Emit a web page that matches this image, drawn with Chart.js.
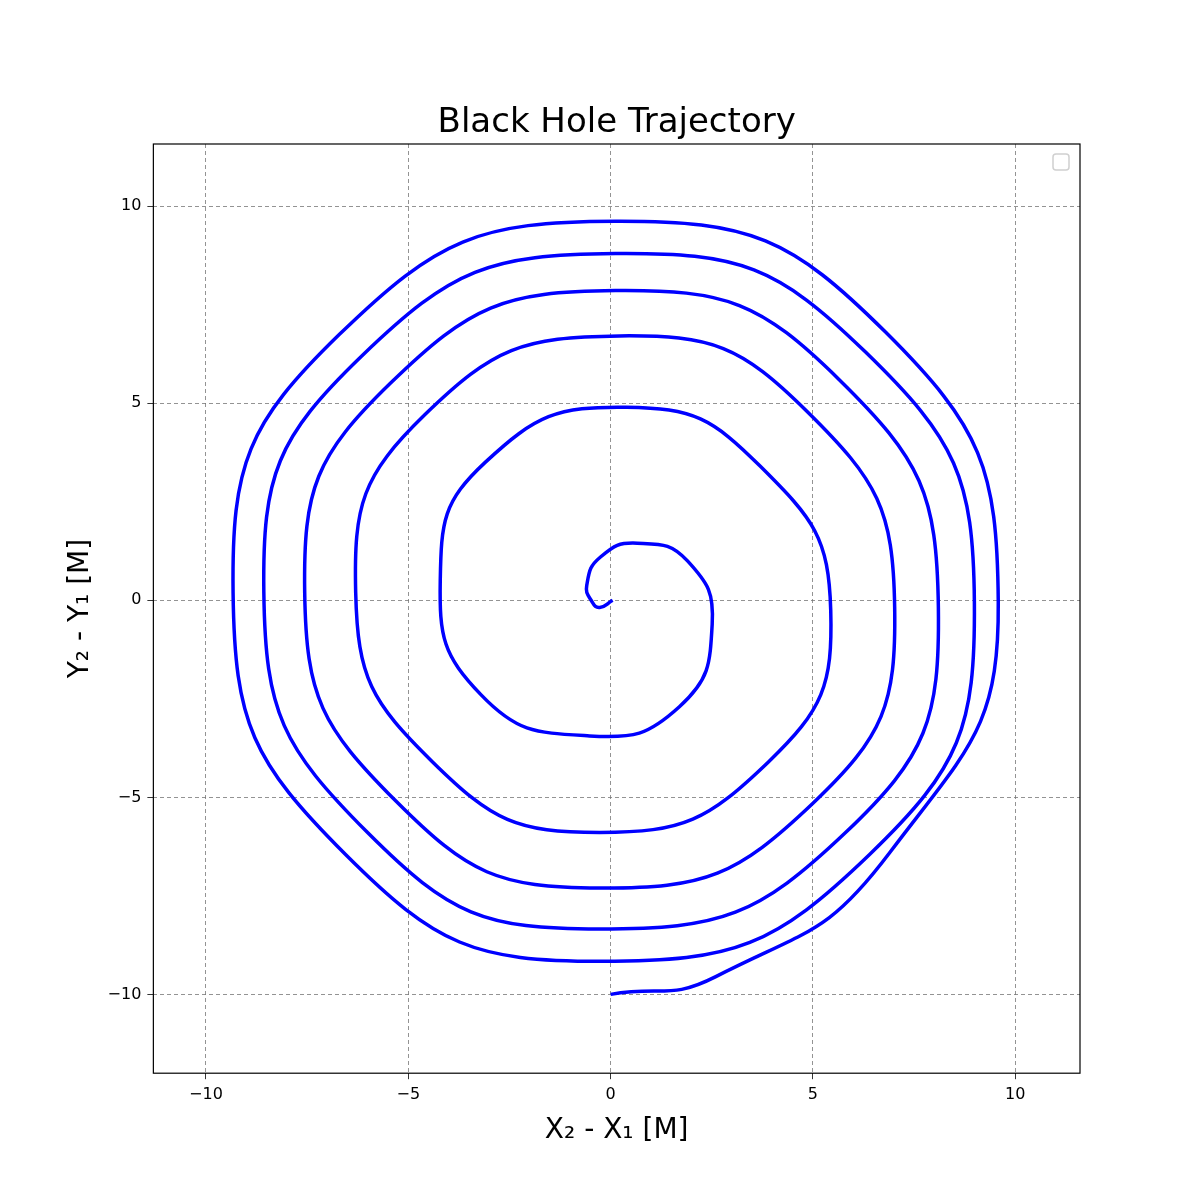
<!DOCTYPE html>
<html>
<head>
<script src="https://cdn.jsdelivr.net/npm/chart.js@4"></script>
<style>body{margin:0;background:#fff}#wrap{width:1200px;height:1200px}</style>
</head>
<body>
<div id="wrap"><canvas id="myChart"></canvas></div>
<script>
// points, start at bottom, spiralling inward counter-clockwise
const xValues = [0, 2.6, 6.9, 9.58, 6.8, 0.12, -6.7, -9.33, -6.55, -0.22, 6.4, 8.99, 6.3, 0.12, -6.15, -8.57, -6.0, -0.27, 5.8, 8.1, 5.65, 0.12, -5.45, -7.56, -5.3, -0.27, 5.0, 7.02, 4.85, 0.22, -4.6, -6.3, -4.4, -0.27, 3.9, 5.44, 3.7, 0.39, -3.1, -4.21, -3.2, -0.52, 1.7, 2.51, 1.9, 0.66, -0.25, -0.59, -0.45, -0.27, 0.05];
const yValues = [-10, -9.55, -6.4, -0.05, 6.8, 9.62, 6.75, 0.2, -6.45, -9.16, -6.45, -0.05, 6.3, 8.8, 6.2, 0.2, -5.9, -8.34, -5.9, -0.18, 5.6, 7.86, 5.5, 0.2, -5.1, -7.3, -5.15, -0.18, 4.8, 6.71, 4.7, 0.2, -4.1, -5.89, -4.1, -0.26, 3.4, 4.9, 3.5, 0.51, -2.4, -3.44, -2.7, -0.61, 1.0, 1.45, 1.1, 0.38, -0.05, -0.18, 0];
const tickValues = [-10, -5, 0, 5, 10];

const pts = xValues.map((x, i) => ({x: x, y: yValues[i]}));

const extras = {
  id: "extras",
  afterDraw(chart) {
    const c = chart.ctx, a = chart.chartArea;
    c.save();
    c.strokeStyle = "#d0d0d0";
    c.lineWidth = 1.5;
    c.beginPath();
    c.roundRect(a.right - 27, a.top + 10, 16, 16, 3);
    c.stroke();
    c.strokeStyle = "#000";
    c.lineWidth = 1.2;
    c.strokeRect(a.left, a.top, a.right - a.left, a.bottom - a.top);
    c.fillStyle = "#000";
    c.font = "34px 'DejaVu Sans'";
    c.textAlign = "center";
    c.textBaseline = "alphabetic";
    c.fillText("Black Hole Trajectory", (a.left + a.right) / 2, a.top - 12);
    c.restore();
  }
};

const axis = (min, max, title) => ({
  type: "linear", min: min, max: max,
  afterBuildTicks: s => { s.ticks = tickValues.map(v => ({value: v})); },
  ticks: {color: "#000", font: {family: "DejaVu Sans", size: 16}, padding: 6,
    callback: v => (v < 0 ? "\u2212" + Math.abs(v) : "" + v)},
  grid: {color: "#777", lineWidth: 0.8, tickLength: 6, tickColor: "#000"},
  border: {display: false, dash: [4, 3]},
  title: {display: true, text: title, color: "#000", font: {family: "DejaVu Sans", size: 28}}
});

new Chart("myChart", {
  type: "scatter",
  data: {datasets: [{data: pts, showLine: true, tension: 0.5, borderColor: "#0000ff",
    borderWidth: 3.5, pointRadius: 0, fill: false}]},
  options: {
    responsive: true, maintainAspectRatio: false, animation: false,
    layout: {padding: {left: 60, right: 120, top: 144, bottom: 48}},
    plugins: {legend: {display: false}, tooltip: {enabled: false}, title: {display: false}},
    scales: {
      x: axis(-11.3, 11.6, "X\u2082 - X\u2081 [M]"),
      y: axis(-12, 11.58, "Y\u2082 - Y\u2081 [M]")
    }
  },
  plugins: [extras]
});
</script>
</body>
</html>
